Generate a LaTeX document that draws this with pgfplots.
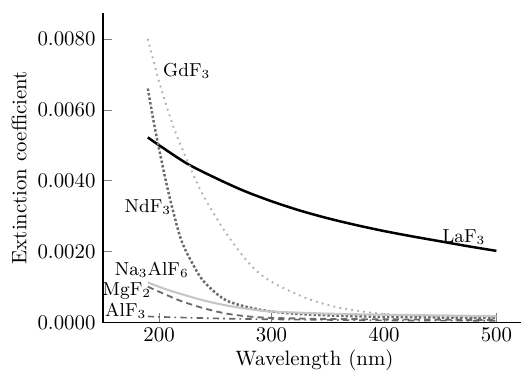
\documentclass[border=0pt]{standalone}
\usepackage{pgfplots}
\pgfplotsset{compat=1.18}
\begin{document}
\begin{tikzpicture}
\begin{axis}[
  scale only axis,
  width=200.7pt, height=148.5pt,
  xmin=150, xmax=522, ymin=0, ymax=0.00873,
  axis x line*=bottom, axis y line*=left,
  axis line style={-, line width=0.8pt},
  tick align=inside,
  major tick length=4.5pt,
  xtick={200,300,400,500},
  ytick={0,0.002,0.004,0.006,0.008},
  scaled y ticks=false,
  yticklabel style={/pgf/number format/fixed, /pgf/number format/fixed zerofill, /pgf/number format/precision=4},
  xticklabel style={yshift=1pt},
  xlabel={Wavelength (nm)},
  ylabel={Extinction coefficient},
  xlabel style={at={(rel axis cs:0.506,-0.122)}, anchor=center},
  ylabel style={at={(rel axis cs:-0.2,0.5)}, anchor=center},
  clip=false,
]
% LaF3
\addplot[black, line width=1.2pt, smooth] coordinates {
 (190,0.00522) (200,0.00500) (225,0.00448) (250,0.00408) (275,0.00372) (300,0.00342)
 (325,0.00316) (350,0.00294) (375,0.00275) (400,0.00258) (425,0.00243) (450,0.00229) (475,0.00215) (500,0.00202)};
% GdF3
\addplot[gray!60, line width=0.9pt, dotted, smooth] coordinates {
 (190,0.0080) (200,0.0068) (213,0.0055) (226,0.0045) (239,0.0036) (260,0.0025) (282,0.0016)
 (300,0.00115) (330,0.0007) (360,0.00042) (400,0.00024) (450,0.00016) (500,0.00012)};
% NdF3
\addplot[gray!85!black, line width=1.2pt, densely dotted, smooth] coordinates {
 (190,0.0066) (195,0.0057) (200,0.0049) (206,0.0040) (212,0.0032) (220,0.0023) (230,0.00165)
 (240,0.00115) (260,0.00062) (290,0.00036) (320,0.00025) (360,0.00019) (400,0.00016) (450,0.00014) (500,0.00013)};
% Na3AlF6
\addplot[gray!45, line width=1.0pt, smooth] coordinates {
 (190,0.00113) (205,0.00095) (220,0.00080) (240,0.00062) (260,0.00048) (280,0.00038) (300,0.00031)
 (350,0.00025) (400,0.00022) (450,0.00020) (500,0.00018)};
% MgF2
\addplot[gray!85!black, line width=0.9pt, densely dashed, smooth] coordinates {
 (190,0.00101) (205,0.00080) (220,0.00060) (240,0.00040) (260,0.00025) (280,0.00017) (300,0.00013)
 (350,0.00010) (400,0.00009) (450,0.00008) (500,0.00007)};
% AlF3
\addplot[gray!80!black, line width=0.8pt, dash dot, smooth] coordinates {
 (190,0.00017) (220,0.00014) (260,0.00011) (300,0.00009) (400,0.00006) (500,0.00005)};
\node[font=\small] at (axis cs:224.6,0.0071) {GdF$_3$};
\node[font=\small] at (axis cs:190,0.00327) {NdF$_3$};
\node[font=\small] at (axis cs:471,0.00242) {LaF$_3$};
\node[font=\small] at (axis cs:193.5,0.00149) {Na$_3$AlF$_6$};
\node[font=\small] at (axis cs:171.3,0.00090) {MgF$_2$};
\node[font=\small] at (axis cs:170.4,0.00034) {AlF$_3$};
\path (rel axis cs:-0.2458,-0.1613) rectangle (rel axis cs:1,1.0419);
\end{axis}
\end{tikzpicture}
\end{document}
